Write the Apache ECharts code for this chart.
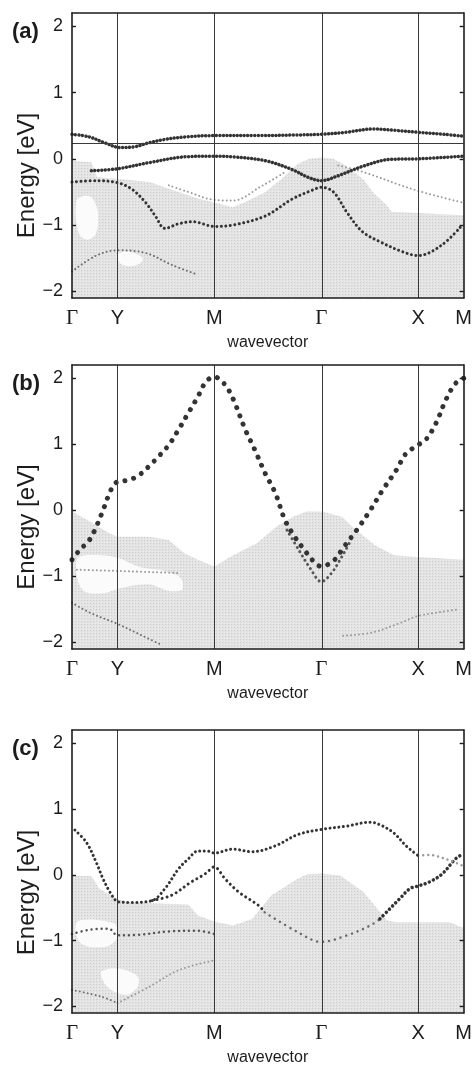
<!DOCTYPE html>
<html>
<head>
<meta charset="utf-8">
<script src="https://cdn.jsdelivr.net/npm/echarts@6/dist/echarts.min.js"></script>
<style>
  html, body { margin: 0; padding: 0; background: #fff; }
  #chart { width: 475px; height: 1067px; }
</style>
</head>
<body>
<div id="chart"></div>
<script>
// High-symmetry path Γ–Y–M–Γ–X–M (path length in units of |YM|)
const kNodes = [0, 0.47, 1.47, 2.575, 3.575, 4.045];
const kNodeLabels = ['Γ', 'Y', 'M', 'Γ', 'X', 'M'];
const energyTicks = [-2, -1, 0, 1, 2];
const panelTags = ['(a)', '(b)', '(c)'];
const fermiLevelA = 0.24;

// ---- panel (a) ----
const aBulkTop = [[0,-0.03],[0.2,-0.05],[0.26,-0.28],[0.47,-0.3],[0.8,-0.35],[1.1,-0.5],[1.3,-0.6],[1.47,-0.66],
  [1.66,-0.73],[1.79,-0.65],[1.99,-0.51],[2.16,-0.31],[2.33,-0.08],[2.45,0.0],[2.575,0.02],[2.7,0.0],[2.8,-0.08],
  [3.01,-0.31],[3.11,-0.51],[3.25,-0.7],[3.3,-0.8],[4.045,-0.85]];
const aBulkGap1 = [[0.05,-0.62],[0.12,-0.56],[0.2,-0.58],[0.26,-0.75],[0.27,-0.95],[0.24,-1.15],[0.16,-1.22],
  [0.08,-1.15],[0.04,-0.9]];
const aBulkGap2 = [[0.46,-1.46],[0.54,-1.4],[0.64,-1.42],[0.73,-1.5],[0.7,-1.58],[0.6,-1.62],[0.5,-1.58]];
const aBandUpper = [[0,0.37],[0.18,0.33],[0.34,0.24],[0.5,0.17],[0.64,0.18],[0.79,0.24],[0.95,0.29],[1.17,0.33],
  [1.47,0.35],[1.91,0.35],[2.32,0.36],[2.575,0.37],[2.83,0.4],[3.11,0.45],[3.33,0.43],[3.575,0.4],[3.84,0.37],[4.045,0.34]];
const aBandMid = [[0.2,-0.18],[0.47,-0.15],[0.79,-0.06],[1.17,0.03],[1.47,0.04],[1.66,0.03],[2.0,-0.03],[2.27,-0.16],
  [2.44,-0.28],[2.575,-0.33],[2.74,-0.26],[3.01,-0.11],[3.28,-0.01],[3.575,0.0],[4.045,0.04]];
const aBandLow = [[0,-0.35],[0.25,-0.33],[0.47,-0.36],[0.62,-0.46],[0.76,-0.66],[0.86,-0.86],[0.96,-1.05],[1.1,-0.98],
  [1.25,-0.95],[1.47,-1.02],[1.66,-1.0],[2.0,-0.86],[2.27,-0.61],[2.47,-0.48],[2.575,-0.43],[2.7,-0.5],[2.84,-0.81],
  [3.0,-1.1],[3.18,-1.25],[3.41,-1.4],[3.575,-1.46],[3.82,-1.3],[4.03,-1.0]];
const aFaint1 = [[1.0,-0.4],[1.2,-0.5],[1.47,-0.62],[1.66,-0.63],[1.96,-0.41],[2.2,-0.2]];
const aFaint2 = [[2.75,-0.1],[3.01,-0.2],[3.52,-0.46],[4.03,-0.66]];
const aFaint3 = [[0,-1.7],[0.25,-1.46],[0.47,-1.38],[0.76,-1.42],[1.03,-1.6],[1.3,-1.75]];

// ---- panel (b) ----
const bBulkTop = [[0,-0.02],[0.22,-0.2],[0.39,-0.35],[0.47,-0.4],[0.8,-0.4],[1.0,-0.45],[1.16,-0.65],[1.3,-0.75],
  [1.47,-0.85],[1.64,-0.7],[1.77,-0.6],[1.91,-0.5],[2.11,-0.25],[2.28,-0.1],[2.42,-0.02],[2.59,-0.02],[2.79,-0.1],
  [2.93,-0.3],[3.13,-0.53],[3.26,-0.63],[3.33,-0.68],[3.5,-0.7],[4.045,-0.75]];
const bBulkGap1 = [[0.06,-0.72],[0.3,-0.68],[0.47,-0.72],[0.7,-0.86],[0.95,-0.92],[1.12,-1.02],[1.14,-1.2],
  [1.0,-1.22],[0.8,-1.12],[0.55,-1.16],[0.3,-1.26],[0.12,-1.22],[0.05,-1.0]];
const bBandMain = [[0,-0.75],[0.08,-0.6],[0.18,-0.45],[0.25,-0.25],[0.32,0.0],[0.39,0.27],[0.44,0.4],[0.47,0.43],
  [0.59,0.46],[0.69,0.53],[0.79,0.66],[0.89,0.81],[1.0,0.99],[1.1,1.22],[1.2,1.47],[1.3,1.72],[1.385,1.95],[1.47,2.02],
  [1.57,1.92],[1.66,1.7],[1.79,1.22],[1.89,0.91],[1.995,0.56],[2.1,0.26],[2.2,-0.15],[2.3,-0.4],[2.4,-0.6],[2.5,-0.78],
  [2.575,-0.85],[2.71,-0.75],[2.81,-0.55],[2.94,-0.3],[3.08,0.0],[3.21,0.31],[3.35,0.61],[3.45,0.86],[3.575,0.99],
  [3.655,1.07],[3.76,1.32],[3.86,1.67],[3.96,1.92],[4.045,2.0]];
const bBandSecond = [[2.22,-0.3],[2.35,-0.62],[2.46,-0.88],[2.575,-1.08],[2.68,-0.95],[2.78,-0.72],[2.88,-0.45]];
const bFaint1 = [[0.05,-0.9],[0.5,-0.92],[1.1,-0.95]];
const bFaint2 = [[0,-1.4],[0.2,-1.56],[0.47,-1.72],[0.7,-1.88],[0.9,-2.02]];
const bFaint3 = [[2.8,-1.9],[3.1,-1.85],[3.4,-1.7],[3.575,-1.6],[4.0,-1.5]];

// ---- panel (c) ----
const cBulkTop = [[0,-0.02],[0.2,-0.02],[0.28,-0.21],[0.47,-0.37],[0.6,-0.42],[1.2,-0.45],[1.3,-0.62],[1.47,-0.71],
  [1.66,-0.77],[1.86,-0.67],[2.06,-0.31],[2.33,-0.06],[2.43,0.01],[2.575,0.02],[2.77,-0.01],[3.01,-0.26],[3.18,-0.56],
  [3.25,-0.69],[3.35,-0.72],[3.9,-0.72],[4.045,-0.81]];
const cBulkGap1 = [[0.05,-0.72],[0.18,-0.68],[0.32,-0.7],[0.45,-0.76],[0.47,-0.95],[0.38,-1.08],[0.22,-1.1],
  [0.1,-1.05],[0.04,-0.9]];
const cBulkGap2 = [[0.3,-1.48],[0.42,-1.42],[0.56,-1.45],[0.68,-1.55],[0.68,-1.7],[0.58,-1.82],[0.44,-1.78],
  [0.34,-1.66]];
const cBandUpper = [[0.03,0.68],[0.15,0.49],[0.25,0.19],[0.32,-0.06],[0.39,-0.26],[0.45,-0.39],[0.47,-0.41],
  [0.62,-0.42],[0.83,-0.39],[0.96,-0.21],[1.1,0.09],[1.2,0.24],[1.3,0.36],[1.4,0.36],[1.47,0.33],[1.66,0.39],
  [1.86,0.35],[2.1,0.44],[2.33,0.61],[2.575,0.69],[2.84,0.74],[3.08,0.8],[3.18,0.76],[3.32,0.64],[3.45,0.44],[3.575,0.29]];
const cBandUpperTail = [[3.575,0.29],[3.69,0.3],[3.86,0.24],[4.03,0.14]];
const cBandLowerA = [[0.83,-0.39],[1.03,-0.31],[1.23,-0.11],[1.37,0.01],[1.45,0.11],[1.47,0.12],[1.58,-0.06],
  [1.72,-0.26],[1.93,-0.47],[1.99,-0.57]];
const cBandLowerB = [[1.99,-0.57],[2.33,-0.87],[2.575,-1.02],[2.84,-0.92],[3.08,-0.77],[3.18,-0.67]];
const cBandLowerC = [[3.18,-0.67],[3.28,-0.52],[3.38,-0.37],[3.49,-0.21],[3.575,-0.17],[3.69,-0.11],[3.82,0.01],
  [3.96,0.24],[4.03,0.31]];
const cBandFlat = [[0,-0.9],[0.2,-0.83],[0.38,-0.82],[0.47,-0.92],[0.7,-0.91],[1.0,-0.86],[1.3,-0.85],[1.47,-0.9]];
const cFaint1 = [[0,-1.75],[0.3,-1.85],[0.47,-1.95]];
const cFaint2 = [[0.47,-1.95],[0.8,-1.7],[1.1,-1.45],[1.47,-1.3]];

// ---- layout ----
const gridTops = [13, 365, 730];
const gridHeights = [285, 284, 285];
const GL = 72, GW = 398;
const INK = '#1c1c1c';

// light grey stipple used for the projected bulk bands
const stipple = document.createElement('canvas');
stipple.width = 3; stipple.height = 3;
(function () {
  const c = stipple.getContext('2d');
  c.fillStyle = '#e3e3e3'; c.fillRect(0, 0, 3, 3);
  c.fillStyle = '#cdcdcd'; c.fillRect(0, 0, 1, 1);
  c.fillStyle = '#efefef'; c.fillRect(2, 2, 1, 1);
})();

function labelForK(v) {
  const i = kNodes.findIndex(k => Math.abs(k - v) < 1e-6);
  if (i < 0) return '';
  const s = kNodeLabels[i];
  return s === 'Γ' ? '{g|Γ}' : s;
}
function energyLabel(v) {
  return (v < 0 ? '\u2212' : '') + Math.abs(v);
}

const grids = [], xAxes = [], yAxes = [], series = [], graphics = [];

function bulk(g, top) {
  series.push({
    type: 'line', xAxisIndex: 2 * g, yAxisIndex: 2 * g, data: top, symbol: 'none', silent: true,
    lineStyle: { width: 0 }, areaStyle: { origin: 'start', color: { image: stipple, repeat: 'repeat' }, opacity: 1 },
    z: 1
  });
}
function gap(g, poly) {
  series.push({
    type: 'custom', xAxisIndex: 2 * g, yAxisIndex: 2 * g, data: poly, silent: true, clip: true, z: 1.5,
    renderItem: function (params, api) {
      if (params.dataIndex !== 0) return null;
      return { type: 'polygon', shape: { points: poly.map(p => api.coord(p)), smooth: 0.3 },
        style: { fill: '#fbfbfb' } };
    }
  });
}
function band(g, data, color, width, space, z) {
  series.push({
    type: 'line', xAxisIndex: 2 * g, yAxisIndex: 2 * g, data: data, smooth: 0.35, symbol: 'none', silent: true,
    lineStyle: { color: color, width: width, type: [0.01, space], cap: 'round' }, z: z || 4
  });
}
function guides(g, extra) {
  const d = kNodes.slice(1, 5).map(k => ({ xAxis: k }));
  (extra || []).forEach(e => d.push({ yAxis: e }));
  series.push({
    type: 'line', xAxisIndex: 2 * g, yAxisIndex: 2 * g, data: [], z: 3,
    markLine: { symbol: 'none', silent: true, label: { show: false },
      lineStyle: { color: '#3a3a3a', width: 1, type: 'solid' }, data: d }
  });
}

for (let g = 0; g < 3; g++) {
  grids.push({ left: GL, top: gridTops[g], width: GW, height: gridHeights[g], containLabel: false });
  const lineSt = { color: INK, width: 1.6 };
  xAxes.push({
    gridIndex: g, type: 'value', min: 0, max: kNodes[5], position: 'bottom', z: 6,
    axisLine: { show: true, onZero: false, lineStyle: lineSt }, axisTick: { show: false },
    splitLine: { show: false },
    axisLabel: { customValues: kNodes, formatter: labelForK, margin: 10, fontSize: 20, color: INK,
      fontFamily: 'Liberation Sans', rich: { g: { fontFamily: 'Liberation Serif', fontSize: 21, color: INK } } },
    name: 'wavevector', nameLocation: 'middle', nameGap: 37,
    nameTextStyle: { fontSize: 16, color: INK, fontFamily: 'Liberation Sans' }
  });
  xAxes.push({
    gridIndex: g, type: 'value', min: 0, max: kNodes[5], position: 'top', z: 6,
    axisLine: { show: true, onZero: false, lineStyle: lineSt }, axisTick: { show: false },
    axisLabel: { show: false }, splitLine: { show: false }
  });
  const yCommon = {
    gridIndex: g, type: 'value', min: -2.1, max: 2.2, z: 6,
    axisLine: { show: true, onZero: false, lineStyle: lineSt },
    axisTick: { show: true, inside: true, length: 4, customValues: energyTicks, lineStyle: { color: INK, width: 1.4 } },
    splitLine: { show: false }
  };
  yAxes.push(Object.assign({}, yCommon, { position: 'left',
    axisLabel: { customValues: energyTicks, formatter: energyLabel, margin: 9, fontSize: 18, color: INK,
      fontFamily: 'Liberation Sans' } }));
  yAxes.push(Object.assign({}, yCommon, { position: 'right', axisLabel: { show: false } }));

  const top = gridTops[g];
  graphics.push({ type: 'text', left: 12, top: top + 8,
    style: { text: panelTags[g], font: 'bold 22px "Liberation Sans"', fill: INK } });
  graphics.push({ type: 'text', x: 27, y: top + gridHeights[g] / 2 + 20, rotation: Math.PI / 2,
    style: { text: 'Energy [eV]', font: '24px "Liberation Sans"', fill: INK, align: 'center', verticalAlign: 'middle' } });
}

const DARK = '#333333', MID = '#6f6f6f', FAINT = '#9a9a9a';

// (a)
bulk(0, aBulkTop); gap(0, aBulkGap1); gap(0, aBulkGap2);
band(0, aFaint1, FAINT, 2, 4, 2); band(0, aFaint2, FAINT, 2, 4, 2); band(0, aFaint3, MID, 2, 4, 2);
guides(0, [fermiLevelA]);
band(0, aBandLow, DARK, 3, 4.5); band(0, aBandMid, DARK, 3.5, 3.5); band(0, aBandUpper, DARK, 3.5, 3.5);

// (b)
bulk(1, bBulkTop); gap(1, bBulkGap1);
band(1, bFaint1, FAINT, 2, 4, 2); band(1, bFaint2, MID, 2, 4, 2); band(1, bFaint3, FAINT, 2, 4, 2);
guides(1);
band(1, bBandSecond, '#555555', 3, 5); band(1, bBandMain, DARK, 5, 9);

// (c)
bulk(2, cBulkTop); gap(2, cBulkGap1); gap(2, cBulkGap2);
band(2, cFaint1, MID, 2, 4, 2); band(2, cFaint2, FAINT, 2, 4, 2);
guides(2);
band(2, cBandFlat, '#555555', 2.5, 5);
band(2, cBandLowerB, '#6a6a6a', 2.5, 6);
band(2, cBandLowerA, DARK, 3, 5); band(2, cBandLowerC, DARK, 3.5, 4.5);
band(2, cBandUpperTail, FAINT, 2.5, 5);
band(2, cBandUpper, DARK, 3, 4.5);

const chart = echarts.init(document.getElementById('chart'), null, { renderer: 'canvas' });
chart.setOption({
  animation: false,
  backgroundColor: '#ffffff',
  grid: grids, xAxis: xAxes, yAxis: yAxes, series: series, graphic: graphics
});
</script>
</body>
</html>
